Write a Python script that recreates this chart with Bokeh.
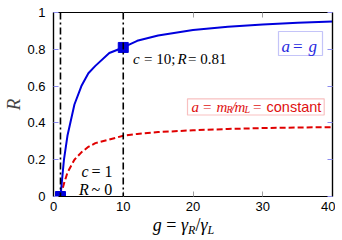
from bokeh.plotting import figure
from bokeh.models import (Range1d, LinearAxis, FixedTicker, Span, Label,
                          BoxAnnotation, NumeralTickFormatter, Div)
from bokeh.layouts import column
from bokeh.embed import file_html
from bokeh.resources import INLINE

# ---- data ----
g_blue = [1, 1.5, 2, 3, 4, 5, 6, 8, 10, 12, 15, 20, 25, 30, 35, 40]
R_blue = [0, 0.2, 0.33, 0.5, 0.6, 0.67, 0.71, 0.78, 0.81, 0.846, 0.875,
          0.905, 0.923, 0.935, 0.944, 0.951]
g_red = [1, 1.5, 2, 3, 4, 5, 6, 8, 10, 12, 15, 20, 25, 30, 35, 40]
R_red = [0, 0.07, 0.13, 0.2, 0.24, 0.27, 0.29, 0.31, 0.33, 0.34, 0.35,
         0.36, 0.367, 0.372, 0.375, 0.377]
g_marks = [1, 10]
R_marks = [0, 0.81]
vlines = [1, 10]
x_ticks = [0, 10, 20, 30, 40]
y_ticks = [0, 0.2, 0.4, 0.6, 0.8, 1.0]

BLUE = "#0000dd"
RED = "#e00000"
SERIF = "Liberation Serif"
SANS = "Liberation Sans"

p = figure(frame_width=279, frame_height=184, output_backend="svg",
           toolbar_location=None, x_range=Range1d(0, 40), y_range=Range1d(0, 1),
           min_border_left=44, min_border_right=3, min_border_top=12,
           min_border_bottom=22, x_axis_location=None, y_axis_location=None)
p.grid.visible = False
p.outline_line_color = "black"
p.outline_line_width = 1.2
p.background_fill_color = "white"
p.border_fill_color = "white"


def mk_axis(ticks, color, labels):
    ax = LinearAxis(ticker=FixedTicker(ticks=ticks))
    ax.axis_line_color = "black"
    ax.axis_line_width = 1.2
    ax.major_tick_in = 5
    ax.major_tick_out = 0
    ax.major_tick_line_color = color
    ax.minor_tick_line_color = None
    if labels:
        ax.major_label_text_font = SANS
        ax.major_label_text_font_size = "13px"
        ax.major_label_text_color = "black"
    else:
        ax.major_label_overrides = {t: "" for t in ticks}
        ax.major_label_standoff = 0
    return ax


left = mk_axis(y_ticks, "#8c8cf0", True)
left.formatter = NumeralTickFormatter(format="0.[0]")
left.major_label_standoff = 8
left.axis_label = "R"
left.axis_label_text_font = SERIF
left.axis_label_text_font_style = "italic"
left.axis_label_text_font_size = "19px"
left.axis_label_standoff = 0
bottom = mk_axis(x_ticks, "#a0a0a0", True)
bottom.major_label_standoff = 5
right = mk_axis(y_ticks, "#8c8cf0", False)
top = mk_axis(x_ticks, "#a0a0a0", False)
p.add_layout(left, "left")
p.add_layout(bottom, "below")
p.add_layout(right, "right")
p.add_layout(top, "above")

for xv in vlines:
    p.add_layout(Span(location=xv, dimension="height", line_color="black",
                      line_width=1.6, line_dash="7 3 2 3"))

p.line(g_red, R_red, line_color=RED, line_width=2, line_dash="6 3")
p.line(g_blue, R_blue, line_color=BLUE, line_width=2)
p.scatter(g_marks, R_marks, marker="square", size=10, color=BLUE)


def gx(px):
    return (px - 52) / 6.975


def ry(py):
    return (196 - py) / 184


def txt(t, px, py, size=15, italic=False, font=SERIF, color="black",
        align="left"):
    py = py - 4  # compensate renderer baseline offset
    p.add_layout(Label(x=gx(px), y=ry(py), text=t, text_font=font,
                       text_font_size=f"{size}px",
                       text_font_style="italic" if italic else "normal",
                       text_color=color, text_align=align,
                       text_baseline="alphabetic"))


# annotation c = 10; R = 0.81
txt("c", 131.5, 62.5, italic=True)
txt("= 10;", 142.5, 62.5)
txt("R", 176, 62.5, italic=True)
txt("= 0.81", 186.5, 62.5)

# c = 1, R ~ 0
txt("c", 80, 175, size=16, italic=True)
txt("= 1", 90, 175, size=16)
txt("R", 77.5, 193, size=16, italic=True)
txt("~ 0", 90, 193, size=16)

# blue box: a = g
p.add_layout(BoxAnnotation(left=gx(277), right=gx(321), top=ry(31),
                           bottom=ry(55), fill_color=None, line_color="#3a3ae8",
                           line_width=1.2))
BC = "#2a2ae0"
txt("a", 280, 50, size=17, italic=True, color=BC)
txt("=", 291.5, 50, size=17, color=BC)
txt("g", 307, 50, size=17, italic=True, color=BC)

# red box: a = mR/mL = constant
p.add_layout(BoxAnnotation(left=gx(186), right=gx(322.7), top=ry(98.3),
                           bottom=ry(114.5), fill_color=None, line_color="#e83030",
                           line_width=1.2))
RC = "#e01010"
txt("a", 190, 110, italic=True, color=RC)
txt("=", 201.5, 110, color=RC)
txt("m", 215, 110, italic=True, color=RC)
txt("R", 225, 112.5, size=10, italic=True, color=RC)
txt("/", 230, 110, italic=True, color=RC)
txt("m", 233, 110, italic=True, color=RC)
txt("L", 243, 112.5, size=10, italic=True, color=RC)
txt("=", 251.5, 110, color=RC)
txt("constant", 265, 110, size=14.5, font=SANS, color=RC)

# x axis label as HTML (keeps subscripts as real text)
sub = "font-style:italic;font-size:12px;position:relative;top:3px"
it = "font-style:italic"
xlabel = Div(
    text=(f'<span style="{it}">g</span> = <span style="{it}">γ</span>'
          f'<span style="{sub}">R</span>/<span style="{it}">γ</span>'
          f'<span style="{sub}">L</span>'),
    width=279, height=14, margin=(0, 0, 0, 44),
    styles={"font-family": SERIF, "font-size": "18px", "line-height": "15px",
            "text-align": "center", "width": "279px"})

layout = column(p, xlabel, spacing=0)
open("out.html", "w").write(file_html(layout, INLINE))
